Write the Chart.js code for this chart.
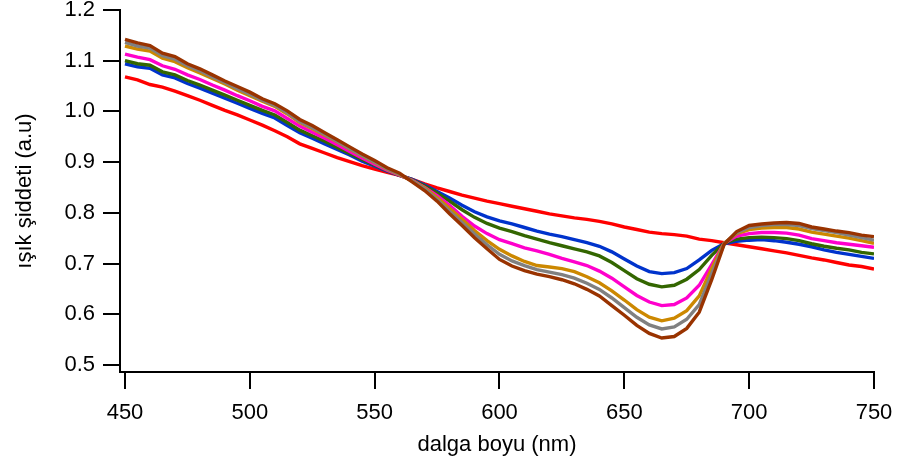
<!DOCTYPE html>
<html>
<head>
<meta charset="utf-8">
<script src="https://cdn.jsdelivr.net/npm/chart.js@4.4.1/dist/chart.umd.min.js"></script>
<style>
  html, body { margin: 0; padding: 0; background: #fff; }
  #spectrum { display: block; }
</style>
</head>
<body>
<canvas id="spectrum" width="901" height="463"></canvas>
<script>
// wavelengths (nm)
const wavelengths = [450, 455, 460, 465, 470, 475, 480, 485, 490, 495,
  500, 505, 510, 515, 520, 525, 530, 535, 540, 545,
  550, 555, 560, 565, 570, 575, 580, 585, 590, 595,
  600, 605, 610, 615, 620, 625, 630, 635, 640, 645,
  650, 655, 660, 665, 670, 675, 680, 685, 690, 695,
  700, 705, 710, 715, 720, 725, 730, 735, 740, 745, 750];

// intensity (a.u)
const redSeries = [1.068, 1.062, 1.053, 1.048, 1.040, 1.031, 1.022, 1.012, 1.002, 0.993,
  0.983, 0.973, 0.962, 0.950, 0.936, 0.927, 0.918, 0.909, 0.901, 0.893,
  0.886, 0.880, 0.874, 0.866, 0.857, 0.849, 0.842, 0.835, 0.829, 0.823,
  0.818, 0.813, 0.808, 0.803, 0.798, 0.794, 0.790, 0.787, 0.783, 0.778,
  0.772, 0.767, 0.762, 0.759, 0.757, 0.754, 0.748, 0.745, 0.741, 0.737,
  0.733, 0.729, 0.725, 0.721, 0.716, 0.711, 0.707, 0.702, 0.697, 0.694, 0.689];

const blueSeries = [1.094, 1.088, 1.085, 1.072, 1.066, 1.055, 1.046, 1.036, 1.026, 1.016,
  1.006, 0.996, 0.987, 0.972, 0.958, 0.947, 0.936, 0.925, 0.914, 0.902,
  0.892, 0.882, 0.874, 0.866, 0.855, 0.842, 0.829, 0.815, 0.802, 0.792,
  0.784, 0.778, 0.771, 0.764, 0.758, 0.753, 0.747, 0.741, 0.734, 0.723,
  0.709, 0.695, 0.684, 0.680, 0.682, 0.690, 0.707, 0.726, 0.739, 0.744,
  0.746, 0.747, 0.745, 0.742, 0.738, 0.733, 0.727, 0.722, 0.718, 0.714, 0.710];

const greenSeries = [1.100, 1.094, 1.091, 1.078, 1.072, 1.061, 1.052, 1.042, 1.032, 1.022,
  1.012, 1.002, 0.993, 0.978, 0.963, 0.952, 0.941, 0.929, 0.917, 0.905,
  0.894, 0.883, 0.874, 0.865, 0.853, 0.839, 0.823, 0.806, 0.791, 0.779,
  0.770, 0.763, 0.755, 0.748, 0.741, 0.735, 0.729, 0.723, 0.715, 0.702,
  0.686, 0.670, 0.659, 0.654, 0.657, 0.669, 0.688, 0.716, 0.740, 0.748,
  0.751, 0.752, 0.751, 0.749, 0.745, 0.739, 0.734, 0.730, 0.727, 0.722, 0.719];

const magentaSeries = [1.113, 1.107, 1.102, 1.090, 1.083, 1.072, 1.063, 1.052, 1.042, 1.031,
  1.021, 1.010, 1.001, 0.986, 0.971, 0.959, 0.947, 0.934, 0.921, 0.908,
  0.896, 0.884, 0.874, 0.864, 0.850, 0.834, 0.815, 0.793, 0.774, 0.759,
  0.747, 0.739, 0.731, 0.725, 0.718, 0.710, 0.703, 0.696, 0.685, 0.671,
  0.654, 0.637, 0.624, 0.617, 0.619, 0.632, 0.657, 0.698, 0.740, 0.754,
  0.759, 0.761, 0.761, 0.760, 0.756, 0.749, 0.745, 0.741, 0.738, 0.735, 0.732];

const orangeSeries = [1.129, 1.123, 1.119, 1.105, 1.098, 1.086, 1.076, 1.065, 1.054, 1.042,
  1.031, 1.020, 1.010, 0.995, 0.978, 0.966, 0.953, 0.940, 0.926, 0.912,
  0.899, 0.886, 0.875, 0.863, 0.849, 0.830, 0.809, 0.787, 0.765, 0.745,
  0.728, 0.715, 0.704, 0.696, 0.693, 0.690, 0.684, 0.674, 0.662, 0.646,
  0.628, 0.609, 0.594, 0.587, 0.592, 0.607, 0.636, 0.690, 0.740, 0.759,
  0.767, 0.770, 0.771, 0.771, 0.768, 0.762, 0.758, 0.754, 0.750, 0.745, 0.740];

const graySeries = [1.136, 1.129, 1.125, 1.110, 1.103, 1.090, 1.080, 1.068, 1.057, 1.045,
  1.034, 1.022, 1.012, 0.997, 0.980, 0.968, 0.955, 0.941, 0.927, 0.913,
  0.900, 0.887, 0.876, 0.863, 0.847, 0.826, 0.803, 0.781, 0.758, 0.737,
  0.718, 0.705, 0.696, 0.688, 0.683, 0.678, 0.671, 0.661, 0.649, 0.632,
  0.613, 0.594, 0.579, 0.571, 0.575, 0.590, 0.619, 0.680, 0.739, 0.761,
  0.771, 0.775, 0.777, 0.777, 0.775, 0.769, 0.765, 0.761, 0.756, 0.751, 0.746];

const brownSeries = [1.142, 1.135, 1.130, 1.115, 1.108, 1.094, 1.084, 1.072, 1.060, 1.049,
  1.038, 1.025, 1.015, 1.001, 0.984, 0.972, 0.958, 0.944, 0.930, 0.916,
  0.903, 0.889, 0.878, 0.861, 0.844, 0.823, 0.798, 0.775, 0.751, 0.729,
  0.708, 0.695, 0.686, 0.679, 0.674, 0.668, 0.660, 0.649, 0.636, 0.617,
  0.598, 0.578, 0.562, 0.553, 0.556, 0.572, 0.604, 0.668, 0.738, 0.763,
  0.775, 0.778, 0.780, 0.781, 0.779, 0.772, 0.768, 0.764, 0.761, 0.756, 0.753];

const xTicks = [450, 500, 550, 600, 650, 700, 750];
const yTicks = [0.5, 0.6, 0.7, 0.8, 0.9, 1.0, 1.1, 1.2];

const tickFont = { family: "'Liberation Sans', Arial, sans-serif", size: 22 };

// brown first so it is drawn on top
const series = [
  { name: "brown", values: brownSeries, color: "#993300" },
  { name: "gray", values: graySeries, color: "#808080" },
  { name: "orange", values: orangeSeries, color: "#cc8800" },
  { name: "magenta", values: magentaSeries, color: "#ff00cc" },
  { name: "green", values: greenSeries, color: "#336600" },
  { name: "blue", values: blueSeries, color: "#0033cc" },
  { name: "red", values: redSeries, color: "#ff0000" },
];

const datasets = series.map((s) => ({
  label: s.name,
  data: s.values.map((v, i) => ({ x: wavelengths[i], y: v })),
  borderColor: s.color,
  borderWidth: 3.4,
  pointRadius: 0,
  tension: 0,
  fill: false,
}));

const ctx = document.getElementById("spectrum");

new Chart(ctx, {
  type: "line",
  data: { datasets },
  options: {
    responsive: false,
    animation: false,
    devicePixelRatio: 1,
    layout: { autoPadding: false, padding: { left: 0, right: 27, top: 10, bottom: 0 } },
    plugins: { legend: { display: false }, tooltip: { enabled: false } },
    scales: {
      x: {
        type: "linear",
        position: "bottom",
        min: 448,
        max: 750,
        afterBuildTicks: (scale) => { scale.ticks = xTicks.map((v) => ({ value: v })); },
        afterFit: (scale) => { scale.height = 91; scale.paddingLeft = 0; scale.paddingRight = 0; },
        grid: { drawOnChartArea: false, drawTicks: true, tickLength: 17, color: "#000", lineWidth: 2 },
        border: { display: true, color: "#000", width: 2 },
        ticks: { font: tickFont, color: "#000", padding: 11, maxRotation: 0, autoSkip: false },
        title: { display: true, text: "dalga boyu (nm)", font: tickFont, color: "#000", padding: { top: 4, bottom: 5 } },
      },
      y: {
        type: "linear",
        position: "left",
        min: 0.486,
        max: 1.2,
        afterBuildTicks: (scale) => { scale.ticks = yTicks.map((v) => ({ value: v })); },
        afterFit: (scale) => { scale.width = 120; scale.paddingTop = 0; scale.paddingBottom = 0; },
        grid: { drawOnChartArea: false, drawTicks: true, tickLength: 17, color: "#000", lineWidth: 2 },
        border: { display: true, color: "#000", width: 2 },
        ticks: { font: tickFont, color: "#000", padding: 8, autoSkip: false, callback: (v) => v.toFixed(1) },
        title: { display: true, text: "ışık şiddeti (a.u)", font: tickFont, color: "#000", padding: { top: 12, bottom: 0 } },
      },
    },
  },
});
</script>
</body>
</html>
